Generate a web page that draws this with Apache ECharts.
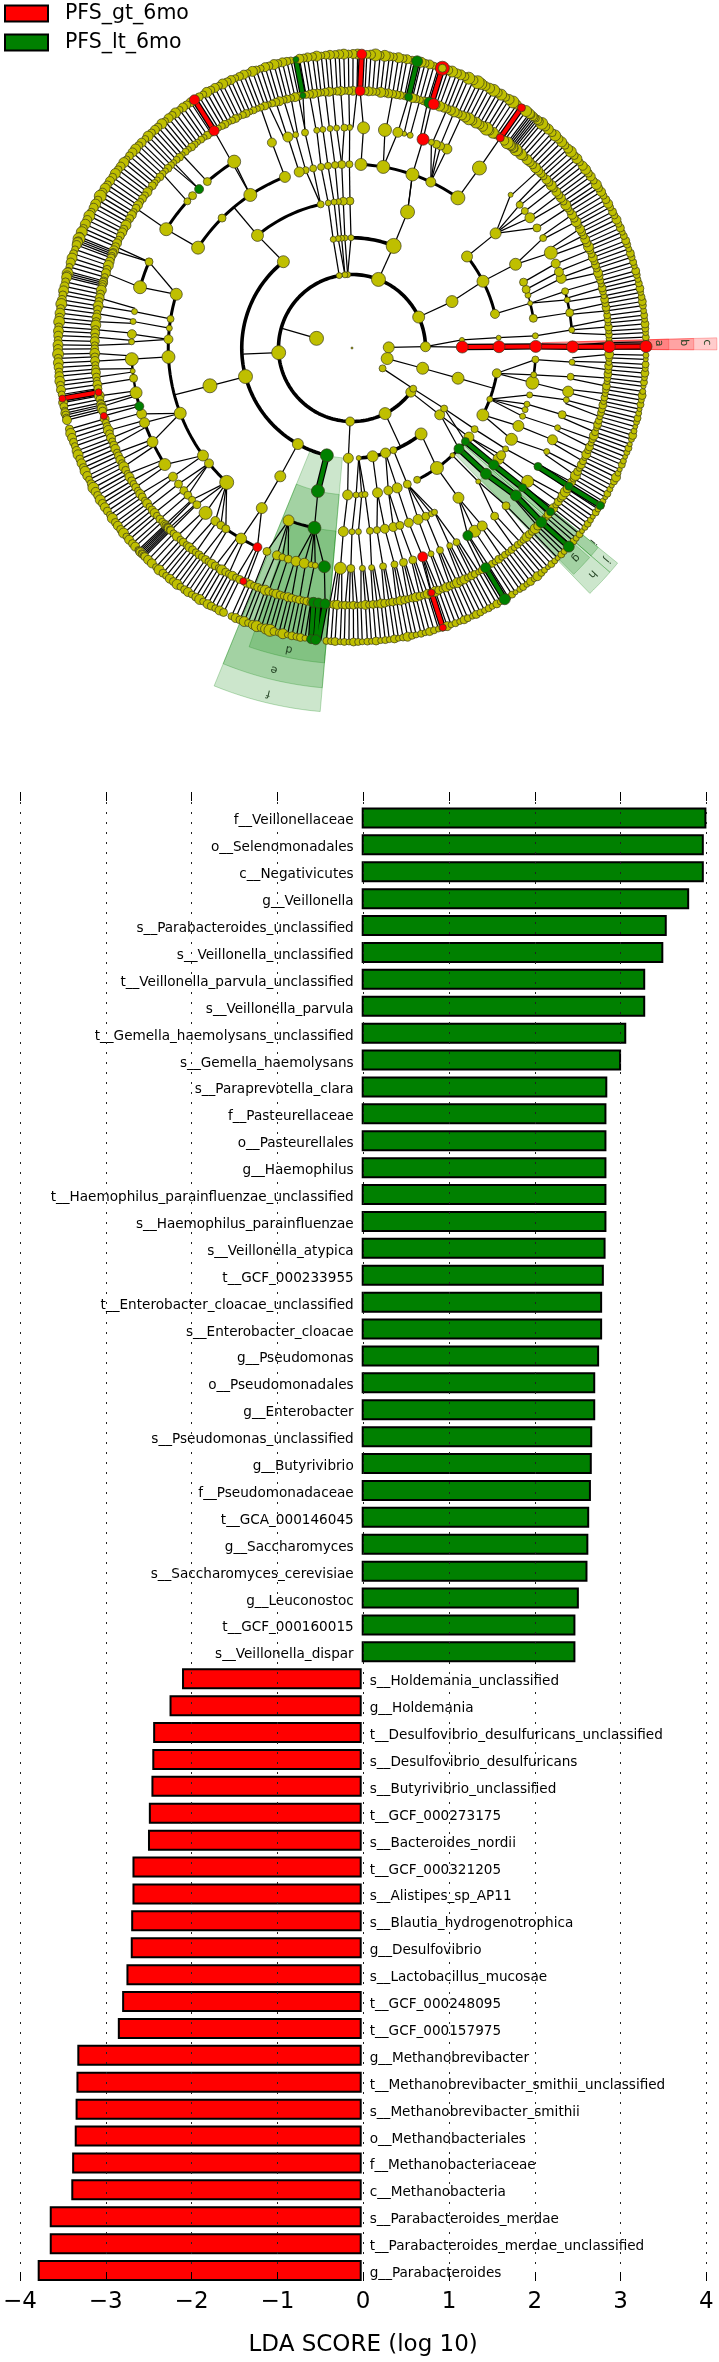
<!DOCTYPE html>
<html><head><meta charset="utf-8">
<script src="https://cdn.jsdelivr.net/npm/echarts@6/dist/echarts.min.js"></script>
<style>html,body{margin:0;padding:0;background:#fff}#c{width:719px;height:2362px}</style>
</head><body><div id="c"></div>
<script>
// ---------- LDA bar data ----------
const greenNames = ['f__Veillonellaceae','o__Selenomonadales','c__Negativicutes','g__Veillonella','s__Parabacteroides_unclassified','s__Veillonella_unclassified','t__Veillonella_parvula_unclassified','s__Veillonella_parvula','t__Gemella_haemolysans_unclassified','s__Gemella_haemolysans','s__Paraprevotella_clara','f__Pasteurellaceae','o__Pasteurellales','g__Haemophilus','t__Haemophilus_parainfluenzae_unclassified','s__Haemophilus_parainfluenzae','s__Veillonella_atypica','t__GCF_000233955','t__Enterobacter_cloacae_unclassified','s__Enterobacter_cloacae','g__Pseudomonas','o__Pseudomonadales','g__Enterobacter','s__Pseudomonas_unclassified','g__Butyrivibrio','f__Pseudomonadaceae','t__GCA_000146045','g__Saccharomyces','s__Saccharomyces_cerevisiae','g__Leuconostoc','t__GCF_000160015','s__Veillonella_dispar'];
const greenValues = [4.0,3.97,3.97,3.80,3.54,3.50,3.29,3.29,3.07,3.01,2.85,2.84,2.84,2.84,2.84,2.84,2.83,2.81,2.79,2.79,2.755,2.71,2.71,2.675,2.67,2.66,2.64,2.63,2.62,2.52,2.48,2.48];
const redNames = ['s__Holdemania_unclassified','g__Holdemania','t__Desulfovibrio_desulfuricans_unclassified','s__Desulfovibrio_desulfuricans','s__Butyrivibrio_unclassified','t__GCF_000273175','s__Bacteroides_nordii','t__GCF_000321205','s__Alistipes_sp_AP11','s__Blautia_hydrogenotrophica','g__Desulfovibrio','s__Lactobacillus_mucosae','t__GCF_000248095','t__GCF_000157975','g__Methanobrevibacter','t__Methanobrevibacter_smithii_unclassified','s__Methanobrevibacter_smithii','o__Methanobacteriales','f__Methanobacteriaceae','c__Methanobacteria','s__Parabacteroides_merdae','t__Parabacteroides_merdae_unclassified','g__Parabacteroides'];
const redValues = [-2.085,-2.23,-2.42,-2.43,-2.44,-2.47,-2.48,-2.66,-2.66,-2.675,-2.68,-2.73,-2.78,-2.83,-3.30,-3.31,-3.32,-3.33,-3.36,-3.37,-3.62,-3.62,-3.76];
const xTicks = [-4,-3,-2,-1,0,1,2,3,4];

// ---------- Cladogram data: [angle in degrees, node size, parent angle on inner ring, mark] ----------
const ring1 = [[1,11],[-16.7,12],[-33.7,7],[164.8,14]];
const ring2 = [[1,10,1],[24.9,12],[68.9,14],[93.4,6],[95.5,6],[100,6],[183.6,14],[268.5,9],[-63.2,12],[-36.9,10],[-33.6,7,-33.7],[-16,12,-16.7]];
const ring3 = [[0.5,12,1,'r'],[4.2,5,1],[24.9,12,24.9],[67.8,15,68.9],[90.5,6,93.4],[93.7,6,93.4],[95.4,6,95.5],[97.2,6,95.5],[99.8,6,100],[128.5,12],[195,14],[240.6,11],[256.8,13,null,'g'],[268.1,10,268.5],[-86.5,5],[-79.2,11],[-72.3,10],[-67.9,7],[-51.2,12],[-37.3,10,-36.9],[-33.3,7,-33.6],[-15.9,12,-16]];
const ring4 = [[0.5,12,0.5,'r'],[4,5,4.2],[13.4,9],[27,12,24.9],[38.5,11],[67.8,14,67.8],[90.8,8,90.5],[93.4,8,93.7],[95.3,6,95.4],[97,6,97.2],[99.3,6,99.8],[102.3,7],[130,12,128.5],[194.9,14,195],[240.8,11,240.6],[256.6,13,256.8,'g'],[268.3,10,268.1],[-88.4,6,-86.5],[-86.2,6,-86.5],[-84.9,6,-86.5],[-80,10,-79.2],[-75.7,9,-72.3],[-72.1,10,-72.3],[-67.9,8,-67.9],[-63.7,7],[-54.7,13,-51.2],[-46.9,5],[-43.3,10,-36.9,'g'],[-39.5,8,-33.3,'g'],[-37.3,10,-37.3],[-33.5,7,-33.3],[-9.9,9],[-20.4,6],[-27.1,12]];
const ring5 = [[0.5,12,0.5,'r'],[3.8,6,4],[9.3,8],[14.1,5,13.4],[16.7,6],[18.6,8],[21,8],[27.1,12,27],[38.6,11,38.5],[54.8,14],[64.6,10],[70.8,13,67.8],[80.2,13],[87.2,12],[90.8,7,90.8],[93.2,8,93.4],[95.3,7,95.3],[97.5,7,97],[99.7,7,99.3],[102.2,7,102.3],[104.6,7,102.3],[106.7,10],[111.4,11],[123.6,13],[135,8],[146.9,13],[163,12],[170.9,7],[173.8,6],[177.3,9],[182.8,13],[200.8,12],[215.8,11],[218.9,9],[227,14],[240.6,11,240.8],[249.8,11],[258.2,13,256.6,'g'],[267.3,10,268.3],[-90,6,-88.4],[-88,6,-86.2],[-84.4,7,-84.9],[-82.2,7,-80],[-79.7,9,-80],[-77,9,-75.7],[-74.9,8,-75.7],[-72,9,-72.1],[-68.9,10,-67.9],[-66.3,8,-67.9],[-64.4,6,-67.9],[-63.3,6,-67.9],[-54.6,11,-54.7],[-46.6,5,-46.9],[-43.2,11,-43.3,'g'],[-39.5,10,-39.5,'g'],[-37.1,11,-37.3],[-35.7,9,-37.3],[-33.3,6,-33.5],[-29.8,12,-27.1],[-25.1,11,-27.1],[-21.8,6,-20.4],[-19.6,6,-20.4],[-17.8,6,-20.4],[-14.8,6,-20.4],[-10.9,13,-9.9],[-8.4,6,-9.9],[-3.6,7,-9.9]];
const ring6 = [[0.3,12,0.5,'r'],[4.7,6,3.8],[9.2,8,9.3],[12.6,6,14.1],[14.9,7,14.1],[18.4,10,16.7],[20.2,9,18.6],[22.5,9,21],[25.6,13,27.1],[29.9,7,27.1],[33,8,38.6],[36.2,10,38.6],[38.4,7,38.6],[40.5,7,38.6],[44,5,38.6],[54.7,14,54.8],[64.5,10,64.6],[66.3,8,64.6],[67.5,8,64.6],[68.9,6,64.6],[71.2,12,70.8,'r'],[74.7,6],[76.3,5],[78,10,80.2],[81.4,13,80.2],[87,12,87.2],[90.6,6,90.8],[92,7,93.2],[94,6,93.2],[95.7,6,95.3],[97.6,6,97.5],[99.2,6,99.7],[102.3,7,102.2],[104.8,6,104.6],[106.9,10,106.7],[111.3,9,111.4],[122.3,13,123.6],[131,8],[133.9,9,null,'g'],[136.3,8],[138.3,7],[147.4,13,146.9],[157,8,163],[164,13,163],[170.5,6,170.9],[173.1,6,173.8],[176.4,9,177.3],[178.4,6,177.3],[182.9,13,182.8],[186,5],[187.9,8],[191.7,12],[195.3,9,null,'g'],[197.4,10,200.8],[199.8,10,200.8],[205.2,11,200.8],[211.9,12,215.8],[215.7,9,215.8],[218.1,8,218.9],[220.3,8,218.9],[221.9,8,218.9],[223.5,7,227],[225.3,8,227],[228.4,13,227],[231.7,9,227],[233.5,8,227],[235.1,8,227],[239.8,11,240.6],[244.6,9,240.6,'r'],[247.3,8,249.8],[250.1,9,249.8],[251.6,7,249.8],[253.2,8,249.8],[255.3,10,258.2],[257.5,10,258.2],[259.3,6,258.2],[260.4,6,258.2],[262.8,12,258.2,'g'],[267,12,267.3],[-90.3,8,-90],[-87.3,6,-88],[-84.9,6,-84.4],[-81.9,7,-82.2],[-78.9,7,-79.7],[-76.5,8,-77],[-74,8,-74.9],[-71.3,10,-72,'r'],[-69,6,-68.9],[-66.5,7,-66.3],[-63.7,6,-63.3],[-61.7,7,-63.3],[-58.3,10,-54.6,'g'],[-56.2,12,-54.6],[-53.8,10,-54.6],[-49.7,8,-46.6],[-45.7,8,-46.6],[-42,11,-43.2,'g'],[-39.3,8,-39.5,'g'],[-37.2,12,-37.1],[-32.5,8,-33.3,'g'],[-28,6,-29.8],[-24.6,10,-25.1],[-21.2,6,-21.8],[-17.6,8,-17.8],[-13.6,6,-14.8],[-11.4,11,-10.9],[-7.5,7,-8.4],[-3.7,6,-3.6]];
// outer rings: leaf angles and sizes of ring 8 and ring 7 nodes
const leafAngles = [
1.2,2.1,3.0,3.8,4.7,5.6,6.4,7.3,8.3,9.1,
10.0,10.9,11.7,12.7,13.5,14.4,15.2,16.2,17.0,18.0,
18.8,19.7,20.6,21.4,22.4,23.2,24.1,25.0,25.9,26.8,
27.6,28.6,29.4,30.3,31.2,32.1,33.0,33.8,34.7,35.7,
36.5,37.4,38.3,39.2,40.1,40.9,41.9,42.7,43.6,44.5,
45.4,46.3,47.1,48.1,48.9,49.8,50.4,50.9,51.3,51.7,
52.1,52.5,52.9,53.7,55.9,56.8,57.7,58.5,59.5,60.3,
61.2,62.1,63.0,63.9,64.7,65.6,66.6,67.4,68.3,69.1,
70.1,70.9,72.9,73.8,74.7,75.6,76.4,78.2,79.2,80.0,
80.9,81.9,82.7,83.6,84.5,85.4,86.3,87.1,88.9,89.8,
90.7,91.6,92.5,93.3,94.3,95.1,96.0,96.9,97.7,98.7,
99.5,100.3,102.0,102.8,103.7,104.6,105.4,106.4,107.2,108.1,
109.0,109.8,110.8,111.6,112.5,113.4,114.3,115.1,116.1,116.9,
117.8,118.7,119.6,120.4,121.3,123.3,124.2,125.1,125.9,126.9,
127.7,128.6,129.5,130.3,131.3,132.1,133.0,133.9,134.7,135.7,
136.5,137.4,138.3,139.2,140.1,140.9,141.9,142.7,143.6,144.5,
145.4,146.3,147.1,148.1,148.9,149.8,150.7,151.5,152.5,153.3,
154.2,155.1,156.0,156.8,157.8,158.2,158.6,159.0,159.5,160.4,
161.3,162.2,163.1,164.0,164.9,165.3,165.7,166.1,167.0,167.9,
168.8,169.6,170.6,171.4,172.3,173.2,174.1,174.9,175.9,176.7,
177.6,178.5,179.4,180.2,181.2,182.0,182.9,183.8,184.7,185.5,
186.5,187.3,188.2,189.1,190.7,191.5,192.3,192.8,193.2,193.7,
194.2,196.0,196.9,197.8,198.7,199.5,200.5,201.3,202.2,203.1,
204.0,204.8,205.8,206.6,207.5,208.4,209.3,210.1,211.1,211.9,
212.8,213.7,214.6,215.4,216.4,217.2,218.1,219.0,219.9,220.7,
221.7,222.5,223.4,223.7,224.0,224.3,224.6,224.9,225.2,226.1,
227.1,228.2,229.0,230.0,230.8,231.7,232.6,233.5,234.3,235.3,
236.1,237.0,237.9,238.8,239.6,240.6,241.4,242.3,243.2,244.1,
245.8,246.7,247.6,248.5,249.3,250.3,251.1,252.0,252.9,253.8,
254.6,255.6,256.4,257.3,258.2,259.1,259.9,260.8,265.0,265.9,
266.7,267.7,268.5,269.4,270.3,271.2,272.0,273.0,273.8,274.7,
275.6,276.5,277.3,278.3,279.1,280.0,280.9,281.8,282.6,283.6,
284.4,285.3,286.2,287.1,287.9,288.9,289.7,290.6,291.5,292.4,
293.2,294.2,295.0,295.9,296.8,297.7,298.5,299.5,300.3,301.2,
302.1,303.0,303.8,304.8,305.6,306.5,307.4,308.3,309.1,310.1,
310.9,311.8,312.7,313.6,314.4,315.4,316.2,317.1,318.0,318.9,
319.7,320.7,321.5,322.4,323.3,324.2,325.0,326.0,326.8,327.7,
328.6,329.5,330.3,331.3,332.1,333.0,333.9,334.8,335.6,336.6,
337.4,338.3,339.2,340.1,340.9,341.9,342.7,343.6,344.5,345.4,
346.2,347.2,348.0,348.9,349.8,350.7,351.5,352.5,353.3,354.2,
355.1,356.0,356.8,357.8,358.6];
const ring8Sizes = [
6,7,6,7,8,6,7,6,7,8,
7,6,8,7,6,7,8,6,7,7,
8,6,7,8,7,6,8,7,9,7,
8,7,9,8,7,9,8,10,7,9,
8,10,9,7,10,8,11,9,8,10,
9,11,8,10,9,12,8,9,7,8,
9,8,10,11,9,12,10,8,11,9,
12,10,9,11,13,9,12,8,10,9,
11,9,8,7,9,8,10,8,9,8,
10,8,9,11,8,12,9,8,10,9,
8,10,9,8,9,8,7,10,8,9,
8,9,7,8,9,8,10,8,9,7,
8,10,7,9,8,7,9,8,10,7,
9,8,10,7,8,9,8,9,7,10,
8,9,7,10,8,9,8,10,7,9,
8,10,9,8,7,10,9,8,10,8,
9,8,10,9,12,8,10,9,8,11,
9,10,8,11,9,12,8,10,9,7,
8,10,9,7,8,11,9,10,8,9,
10,8,9,11,8,10,9,11,8,10,
9,8,10,9,11,8,10,9,8,9,
10,8,9,7,9,8,7,9,8,7,
9,8,10,9,8,7,9,10,8,9,
8,10,9,7,8,11,9,8,10,8,
9,8,7,10,8,9,8,10,7,9,
8,9,7,8,9,7,8,7,8,9,
9,7,10,8,7,9,8,10,7,8,
9,7,8,10,7,9,8,7,9,8,
7,9,8,10,7,9,11,8,10,12,
8,7,10,6,8,7,8,6,7,7,
8,6,7,6,8,7,6,7,6,8,
6,7,6,8,6,7,9,7,6,7,
6,8,7,6,7,9,6,7,6,8,
7,6,8,7,6,7,6,8,6,7,
6,7,5,6,7,6,8,6,9,7,
6,5,7,6,5,7,6,5,6,7,
6,7,5,6,7,6,5,7,6,8,
6,5,7,6,5,7,9,6,5,7,
6,5,6,7,5,6,8,6,5,6,
7,6,5,7,6,8,6,5,7,6,
8,6,7,5,6];
const ring7Sizes = [
7,6,7,6,8,6,7,7,6,8,
7,8,6,7,8,6,7,8,9,7,
8,7,9,7,8,10,8,9,7,8,
9,7,10,8,9,7,8,10,7,9,
8,9,7,10,8,9,7,8,9,10,
8,9,10,8,11,9,12,8,10,9,
10,8,12,9,8,11,9,13,10,9,
11,9,12,10,9,8,10,9,8,9,
10,8,9,8,7,8,9,7,8,8,
8,9,8,10,7,8,9,8,7,9,
8,7,9,8,7,9,8,7,8,9,
8,7,8,9,7,8,7,9,8,7,
6,8,7,6,7,6,8,7,6,8,
7,6,8,7,6,7,8,6,7,6,
7,8,6,7,6,8,7,6,7,8,
6,7,8,6,7,8,6,9,7,8,
7,9,8,7,9,8,7,10,8,9,
8,7,9,8,10,8,9,7,8,9,
10,8,9,7,8,9,8,7,10,8,
9,8,10,8,7,9,8,10,8,9,
8,9,7,8,10,8,9,7,8,9,
8,7,9,8,10,8,7,9,8,10,
8,9,7,8,10,8,9,7,8,9,
7,8,9,7,10,8,7,9,8,7,
8,7,9,8,7,9,7,8,9,7,
8,7,9,8,7,8,9,7,8,7,
9,7,8,7,9,8,7,8,7,8,
7,9,8,7,10,8,7,9,7,8,
9,8,7,8,7,10,8,7,9,8,
7,9,8,7,8,7,8,8,7,8,
9,7,8,7,8,6,7,9,7,8,
7,9,8,7,8,7,9,8,7,8,
9,8,7,9,8,10,8,7,9,8,
7,10,8,9,7,8,7,6,7,6,
6,7,6,8,6,7,6,7,6,7,
6,7,9,8,7,10,8,7,6,7,
8,7,9,6,8,7,9,10,8,7,
8,7,10,8,6,8,7,6,9,7,
8,6,7,9,7,6,8,7,6,7,
7,8,6,7,6,7,8,6,7,8,
7,8,6,7,9];
// ring-7 ranges that have no stem towards ring 6
const stemGaps = [[45,54.3],[55.2,63.5],[69.5,70.6],[73,74.3],[76.8,77.7],[78.6,80.8],[82.2,86.4],[87.6,88.5],[112,121.8],[123,130.3],[131.7,133.4],[134.8,136.6],[138.2,147],[148,156],[158,163],[164,168.5]];
// ring-7 ranges where every leaf has its own stem (elsewhere every second leaf)
const denseStems = [[262,300]];
// [ring, angle, size, mark] highlighted nodes on the two outer rings
const markedLeaves = [[7,0.3,12,'r'],[8,0.3,12,'r'],[7,88.2,10,'r'],[8,88.1,10,'r'],[8,72.1,14,'r'],[7,71.5,11,'r'],[7,72.5,11,'g'],[7,77.3,8,'g'],[8,77.2,11,'g'],[7,101,6,'g'],[8,101,6,'g'],[7,54.8,8,'r'],[8,54.8,8,'r'],[7,122.4,10,'r'],[8,122.4,10,'r'],[7,189.9,7,'r'],[8,189.9,7,'r'],[7,195.3,7,'r'],[7,245,7,'r'],[7,261.4,10,'g'],[7,262.5,10,'g'],[7,264,10,'g'],[8,262,9,'g'],[8,262.9,10,'g'],[7,-72,7,'r'],[8,-72,7,'r'],[7,-58.7,10,'g'],[8,-58.7,11,'g'],[7,-42.6,11,'g'],[8,-42.5,11,'g'],[7,-39.5,8,'g'],[7,-32.5,8,'g'],[8,-32.4,8,'g']];
// [ring, from, to, width] thick arcs
const arcs = [[2,1,326.4,3.6],[3,67.8,90.5,3.6],[3,128.5,256.8,3.6],[3,-86.5,-51.2,3.6],[4,13.4,38.5,3],[4,102.3,130,3],[4,-63.7,-39.5,3],[4,-27.1,-9.9,3],[5,9.3,14.1,2.6],[5,14.1,21,1.5],[5,-8.4,-3.6,2.6],[5,54.8,87.2,3],[5,111.4,146.9,3],[5,163,227,3],[5,249.8,258.2,3],[6,4.7,14.9,2.6],[6,74.7,78,1.5],[6,122.3,131,3],[6,136.3,147.4,3],[6,157,164,3],[6,182.9,191.7,2.4],[6,191.7,211.9,3],[6,235.1,244.6,3]];
// [ring a, angle a, ring b, angle b] extra thin links
const extraLinks = [[1,164.8,2,164.3],[2,183.6,3,183.2],[2,-63.2,3,-63.8],[3,-15.9,4,-15.9],[4,130,5,130],[5,123.6,7,122.4],[4,67.8,5,70.8],[4,194.9,5,194.8],[6,71.2,7,72],[6,262.8,7,264],[6,-58.3,7,-58.7],[6,244.6,7,245],[6,195.3,7,195.3],[6,-71.3,7,-72],[6,54.7,7,54.8],[6,87,7,88.2],[6,78,7,77.3],[6,102.3,7,101]];
const redLinks = [[3,0.5,4,0.5],[4,0.5,5,0.5],[5,0.5,6,0.3],[6,0.3,7,0.3],[7,0.3,8,0.3],[7,88.2,8,88.1],[7,72,8,72.1],[7,54.8,8,54.8],[7,122.4,8,122.4],[7,189.9,8,189.9],[7,-72,8,-72]];
const greenLinks = [[7,101,8,101],[7,77.3,8,77.2],[3,256.8,4,256.6],[7,261.4,8,262],[7,262.5,8,262.9],[7,264,8,263.4],[7,-58.7,8,-58.7],[4,-43.3,5,-43.2],[5,-43.2,6,-42],[6,-42,7,-42.6],[7,-42.6,8,-42.5],[4,-39.5,5,-39.5],[5,-39.5,6,-39.3],[6,-39.3,7,-39.5],[6,-32.5,7,-32.5],[7,-32.5,8,-32.4]];
// clade shades: [inner radius, outer radius, from angle, to angle] in ring units
const redShades = [[5.17,9.93,-0.3,1.6],[5.17,9.3,-0.3,1.6],[6,8.62,-0.3,1.6]];
const greenShades = [[3,9.93,247.8,265],[4,9.28,247.8,265],[5,8.6,251,265],[4,9.3,-45.9,-41],[5,8.62,-45.6,-41.4],[4,9.3,-41,-39],[5,8.62,-41,-39]];
const cladeLetters = ['a','b','c','d','e','f','g','h','i','j'];
const cladeLetterPos = [[8.35,0.9],[9.03,0.9],[9.66,0.9],[8.38,258.2],[9.01,256.4],[9.67,256.4],[8.35,-43.2],[8.98,-43.2],[8.41,-38.8],[9.01,-39.8]];

// ---------- assemble ----------
const YEL='#BFBF00', RED='#FF0000', GRN='#008000';
const norm = a => a<0 ? a+360 : a;
const yellow=[], red=[], green=[], edges=[];
function addNode(ring,a,size,mark){
  const p=[ring,norm(a),size];
  (mark==='r'?red:mark==='g'?green:yellow).push(p);
}
[ring1,ring2,ring3,ring4,ring5,ring6].forEach((arr,i)=>{
  const ring=i+1;
  arr.forEach(n=>{
    addNode(ring,n[0],n[1],n[3]);
    if(n[2]!==undefined && n[2]!==null) edges.push([ring-1,n[2],ring,n[0]]);
  });
});
extraLinks.forEach(e=>edges.push(e));
const r6Angles = ring6.map(n=>norm(n[0]));
leafAngles.forEach((a,i)=>{
  addNode(8,a,ring8Sizes[i]);
  addNode(7,a,ring7Sizes[i]);
  edges.push([7,a,8,a]);
  if(stemGaps.some(g=>a>=g[0]&&a<=g[1])) return;
  const narrow = a>=112 && a<168.5;
  if(!narrow && i%2 && !denseStems.some(g=>a>=g[0]&&a<=g[1])) return;
  let best=r6Angles[0];
  r6Angles.forEach(b=>{ if(Math.abs(b-a)<Math.abs(best-a)) best=b; });
  if(Math.abs(best-a)>6) return;
  edges.push([6,narrow?best:best+(a-best)*0.5,7,a]);
});
markedLeaves.forEach(m=>addNode(m[0],m[1],m[2],m[3]));
yellow.push([0,0,2]);
yellow.push([8,72.1,8]);

function lineRender(width,color){
  return function(params,api){
    const a=api.coord([api.value(0),api.value(1)]), b=api.coord([api.value(2),api.value(3)]);
    return {type:'line',shape:{x1:a[0],y1:a[1],x2:b[0],y2:b[1]},style:{stroke:color,lineWidth:width,lineCap:'butt'}};
  };
}
function shadeRender(color){
  return function(params,api){
    const r0=api.value(0), r1=api.value(1), a0=api.value(2), a1=api.value(3), pts=[];
    for(let k=0;k<=12;k++) pts.push(api.coord([r1,a0+(a1-a0)*k/12]));
    for(let k=12;k>=0;k--) pts.push(api.coord([r0,a0+(a1-a0)*k/12]));
    return {type:'polygon',shape:{points:pts},style:{fill:color+'33',stroke:color+'40',lineWidth:1}};
  };
}
const common={coordinateSystem:'polar',polarIndex:0,silent:true,animation:false};
const FONT='"DejaVu Sans"';
function nodeSeries(data,color,z){
  return Object.assign({},common,{type:'scatter',data,clip:false,z,symbol:'circle',symbolSize:v=>v[2],
    itemStyle:{color,opacity:1,borderColor:'#3a3a1a',borderWidth:0.7}});
}
const barLabel=(pos)=>({show:true,position:pos,distance:8,offset:[0,3],formatter:p=>p.name,color:'#000',fontFamily:FONT,fontSize:13.6});

const option={
  animation:false,
  backgroundColor:'#fff',
  textStyle:{fontFamily:FONT},
  legend:{left:4,top:3,padding:0,orient:'vertical',itemWidth:43,itemHeight:16,itemGap:8,icon:'rect',selectedMode:false,
    data:['PFS_gt_6mo','PFS_lt_6mo'],
    textStyle:{fontSize:20.5,color:'#000',fontFamily:FONT,padding:[0,0,0,12]}},
  polar:{center:[352,348],radius:[0,441]},
  angleAxis:{polarIndex:0,type:'value',min:0,max:360,startAngle:0,clockwise:false,axisLine:{show:false},axisTick:{show:false},axisLabel:{show:false},splitLine:{show:false}},
  radiusAxis:{polarIndex:0,type:'value',min:0,max:12,axisLine:{show:false},axisTick:{show:false},axisLabel:{show:false},splitLine:{show:false}},
  grid:[
    {left:17,width:689.4,top:804.5,height:1479.5,containLabel:false},
    {left:17,width:689.4,top:792,height:1505,containLabel:false}
  ],
  xAxis:[
    {gridIndex:0,type:'value',min:-4,max:4,interval:1,show:false},
    {gridIndex:1,type:'value',min:-4,max:4,interval:1,position:'bottom',z:5,
      axisLine:{show:false},axisTick:{show:true,inside:true,length:9,lineStyle:{color:'#000',width:1}},
      axisLabel:{show:true,margin:10,fontSize:23,color:'#000',fontFamily:FONT,showMinLabel:true,showMaxLabel:true,hideOverlap:false,
        formatter:v=>String(xTicks[xTicks.indexOf(v)]).replace('-','\u2212')},
      splitLine:{show:true,lineStyle:{color:'#222',width:1,type:[2,8]}},
      name:'LDA SCORE (log 10)',nameLocation:'middle',nameGap:53,nameTextStyle:{fontSize:23,color:'#000',fontFamily:FONT}},
    {gridIndex:1,type:'value',min:-4,max:4,interval:1,position:'top',z:5,
      axisLine:{show:false},axisTick:{show:true,inside:true,length:9,lineStyle:{color:'#000',width:1}},axisLabel:{show:false},splitLine:{show:false}}
  ],
  yAxis:[
    {gridIndex:0,type:'category',inverse:true,data:greenNames.concat(redNames),show:false},
    {gridIndex:1,type:'value',min:0,max:1,show:false}
  ],
  series:[
    {name:'PFS_gt_6mo',type:'bar',xAxisIndex:0,yAxisIndex:0,stack:'lda',barWidth:21,z:2,
      data:greenNames.map(()=>null).concat(redValues),
      itemStyle:{color:RED,borderColor:'#000',borderWidth:2},label:barLabel('right')},
    {name:'PFS_lt_6mo',type:'bar',xAxisIndex:0,yAxisIndex:0,stack:'lda',barWidth:21,z:2,
      data:greenValues.concat(redNames.map(()=>null)),
      itemStyle:{color:GRN,borderColor:'#000',borderWidth:2},label:barLabel('left')},
    Object.assign({},common,{type:'custom',z:1,clip:false,data:redShades,renderItem:shadeRender(RED)}),
    Object.assign({},common,{type:'custom',z:1,clip:false,data:greenShades,renderItem:shadeRender(GRN)}),
    Object.assign({},common,{type:'custom',z:2,clip:false,data:edges,renderItem:lineRender(1.25,'#000')}),
    Object.assign({},common,{type:'custom',z:2,clip:false,data:arcs,renderItem:function(params,api){
      const ring=api.value(0),a0=api.value(1),a1=api.value(2),pts=[];
      const n=Math.ceil(Math.abs(a1-a0)/2)+1;
      for(let k=0;k<=n;k++) pts.push(api.coord([ring,a0+(a1-a0)*k/n]));
      return {type:'polyline',shape:{points:pts},style:{stroke:'#000',fill:null,lineWidth:api.value(3),lineJoin:'round'}};
    }}),
    Object.assign({},common,{type:'custom',z:3,clip:false,data:redLinks.concat(greenLinks),renderItem:lineRender(6.4,'#000')}),
    Object.assign({},common,{type:'custom',z:3,clip:false,data:redLinks,renderItem:lineRender(4,RED)}),
    Object.assign({},common,{type:'custom',z:3,clip:false,data:greenLinks,renderItem:lineRender(4,GRN)}),
    nodeSeries(yellow.filter(p=>!(p[0]===8&&p[1]===72.1)),YEL,4),
    nodeSeries(green,GRN,5),
    nodeSeries(red,RED,5),
    nodeSeries(yellow.filter(p=>p[0]===8&&p[1]===72.1),YEL,6),
    Object.assign({},common,{type:'custom',z:7,clip:false,data:cladeLetterPos,renderItem:function(params,api){
      const p=api.coord([api.value(0),api.value(1)]);
      return {type:'text',x:p[0],y:p[1],rotation:(api.value(1)-90)*Math.PI/180,
        style:{text:cladeLetters[params.dataIndex],fill:'#1f3f1f',font:'11px '+FONT,align:'center',verticalAlign:'middle'}};
    }})
  ]
};
echarts.init(document.getElementById('c'),null,{renderer:'canvas',width:719,height:2362}).setOption(option);
</script></body></html>
